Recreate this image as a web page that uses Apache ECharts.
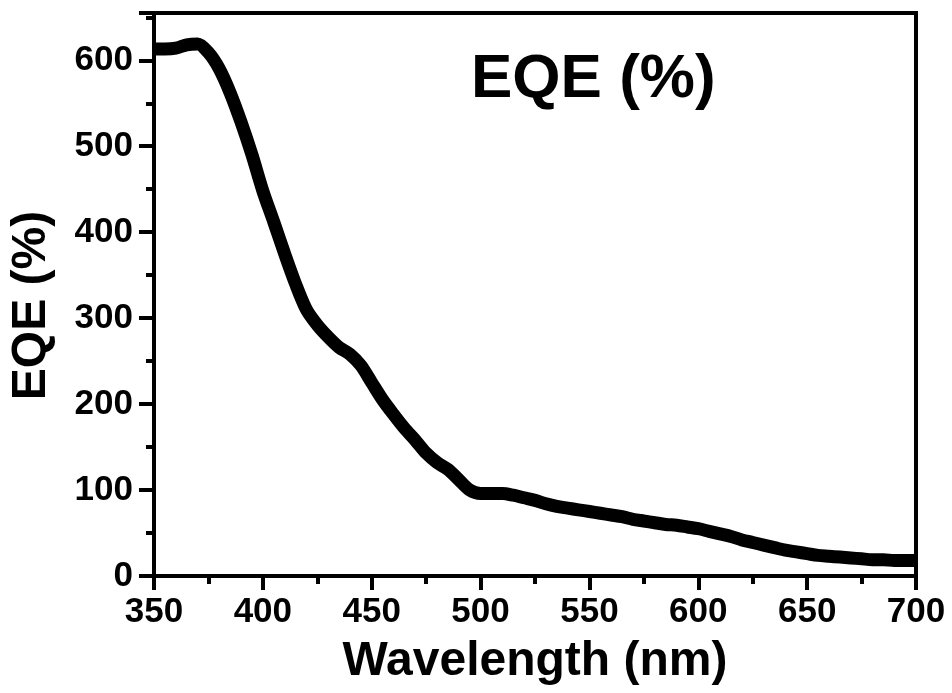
<!DOCTYPE html>
<html lang="en">

<head>
    <meta charset="UTF-8">
    <title>EQE (%)</title>
    <script src="https://cdn.jsdelivr.net/npm/echarts@6/dist/echarts.min.js"></script>
    <style>
        html, body { margin: 0; padding: 0; background: #fff; }
        #eqe_show { width: 952px; height: 693px; }
    </style>
</head>

<body>
    <div id="eqe_show"></div>

    <script>
        // 波长 (nm)
        var wavelength = [350, 355, 360, 365, 370, 375, 380, 385, 390, 395,
            400, 405, 410, 415, 420, 425, 430, 435, 440, 445,
            450, 455, 460, 465, 470, 475, 480, 485, 490, 495,
            500, 505, 510, 515, 520, 525, 530, 535, 540, 545,
            550, 555, 560, 565, 570, 575, 580, 585, 590, 595,
            600, 605, 610, 615, 620, 625, 630, 635, 640, 645,
            650, 655, 660, 665, 670, 675, 680, 685, 690, 695, 700];
        // EQE (%)
        var eqe = [613, 613, 614, 618, 619, 609, 590, 562, 528, 490,
            448, 412, 375, 340, 310, 292, 278, 266, 258, 245,
            225, 205, 188, 172, 158, 143, 132, 124, 112, 100,
            96, 96, 96, 94, 91, 88, 84, 81, 79, 77,
            75, 73, 71, 69, 66, 64, 62, 60, 59, 57,
            55, 52, 49, 46, 42, 39, 36, 33, 30, 28,
            26, 24, 23, 22, 21, 20, 19, 19, 18, 18, 18];

        var font = 'Liberation Sans';

        var points = [];
        for (var i = 0; i < wavelength.length; i++) {
            points.push([wavelength[i], eqe[i]]);
        }

        var myChart = echarts.init(document.getElementById('eqe_show'));

        var option = {
            backgroundColor: '#fff',
            animation: false,
            title: {
                text: 'EQE (%)',
                left: 466,
                top: 44,
                textStyle: { fontFamily: font, fontSize: 62, fontWeight: 'bold', color: '#000' }
            },
            grid: {
                left: 153,
                right: 36,
                top: 13,
                bottom: 117,
                show: true,
                borderColor: '#000',
                borderWidth: 4
            },
            xAxis: {
                type: 'value',
                min: 350,
                max: 700,
                interval: 50,
                name: 'Wavelength (nm)',
                nameLocation: 'middle',
                nameGap: 62,
                nameTextStyle: { fontFamily: font, fontSize: 48, fontWeight: 'bold', color: '#000' },
                axisLine: { lineStyle: { color: '#000', width: 4 } },
                axisTick: { length: 14, lineStyle: { width: 4 } },
                minorTick: { show: true, splitNumber: 2, length: 8, lineStyle: { color: '#000', width: 4 } },
                axisLabel: { margin: 19, fontFamily: font, fontSize: 35, fontWeight: 'bold', color: '#000' },
                splitLine: { show: false }
            },
            yAxis: {
                type: 'value',
                min: 0,
                max: 655,
                interval: 100,
                name: 'EQE (%)',
                nameLocation: 'middle',
                nameGap: 98,
                nameTextStyle: {
                    fontFamily: font, fontSize: 48, fontWeight: 'bold', color: '#000',
                    padding: [0, 22, 0, 0]  // 稍微往下挪
                },
                axisLine: { lineStyle: { color: '#000', width: 4 } },
                axisTick: { length: 15, lineStyle: { width: 4 } },
                minorTick: { show: true, splitNumber: 2, length: 8, lineStyle: { color: '#000', width: 4 } },
                axisLabel: { margin: 21, showMaxLabel: false, fontFamily: font, fontSize: 35, fontWeight: 'bold', color: '#000' },
                splitLine: { show: false }
            },
            series: [
                {
                    name: 'EQE',
                    type: 'line',
                    smooth: 0.3,
                    showSymbol: false,
                    clip: true,
                    lineStyle: { color: '#000', width: 13 },
                    data: points
                }
            ]
        };
        myChart.setOption(option);
    </script>
</body>

</html>
